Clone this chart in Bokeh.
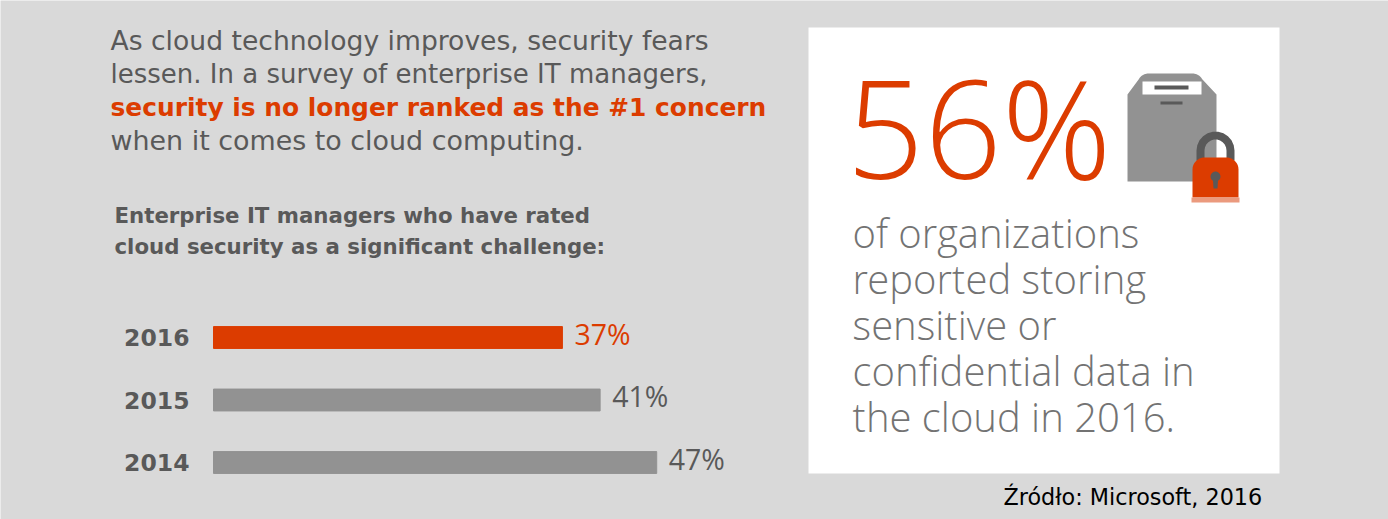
import numpy as np

from bokeh.core.properties import value
from bokeh.embed import file_html
from bokeh.models import BoxAnnotation, FixedTicker, Label, PolyAnnotation, Range1d
from bokeh.plotting import figure
from bokeh.resources import INLINE

# chart data
years = [2014, 2015, 2016]
shares = [47, 41, 37]
bar_colors = ["#929292", "#929292", "#dc3c00"]
share_labels = ["47%", "41%", "37%"]
label_colors = ["#595959", "#595959", "#dc3c00"]

intro_lines = ["As cloud technology improves, security fears",
               "lessen. In a survey of enterprise IT managers,",
               "security is no longer ranked as the #1 concern",
               "when it comes to cloud computing."]
chart_title = ["Enterprise IT managers who have rated",
               "cloud security as a significant challenge:"]
panel_lines = ["of organizations", "reported storing", "sensitive or",
               "confidential data in", "the cloud in 2016."]
big_number = "56%"
source_text = "Źródło: Microsoft, 2016"

GREY = "#595959"
ORANGE = "#dc3c00"
BG = "#d9d9d9"

W, H = 1388, 519
px_per_pct = 9.43
px_per_year = 62.5
zero_x = 213
y_2016 = 337

p = figure(width=W, height=H, output_backend="svg", toolbar_location=None,
           x_range=Range1d(-zero_x / px_per_pct, (W - zero_x) / px_per_pct),
           y_range=Range1d(2016 - (H - y_2016) / px_per_year, 2016 + y_2016 / px_per_year),
           min_border=0, background_fill_color=BG, border_fill_color=BG)
p.outline_line_color = None
p.grid.visible = False
p.xaxis.visible = False

p.yaxis.fixed_location = 0
p.yaxis.ticker = FixedTicker(ticks=years)
p.yaxis.axis_line_color = None
p.yaxis.major_tick_line_color = None
p.yaxis.minor_tick_line_color = None
p.yaxis.major_label_text_font = "DejaVu Sans"
p.yaxis.major_label_text_font_style = "bold"
p.yaxis.major_label_text_font_size = "23.5px"
p.yaxis.major_label_text_color = GREY
p.yaxis.major_label_standoff = 18


def text(s, x, y, size, color=GREY, font="DejaVu Sans", style="normal"):
    p.add_layout(Label(x=x, y=y, x_units="canvas", y_units="canvas", text=s,
                       text_font=font, text_font_size=size, text_font_style=style,
                       text_color=color, text_baseline="alphabetic"))


def shape(xs, ys, color):
    p.add_layout(PolyAnnotation(xs=list(xs), ys=list(ys), xs_units="canvas", ys_units="canvas",
                                fill_color=color, fill_alpha=1, line_color=None))


def arc(cx, cy, r, a0, a1, n=12):
    a = np.radians(np.linspace(a0, a1, n))
    return (cx + r * np.cos(a)).tolist(), (cy - r * np.sin(a)).tolist()


# white panel on the right
p.add_layout(BoxAnnotation(left=808, right=1279, top=27, bottom=473,
                           left_units="canvas", right_units="canvas",
                           top_units="canvas", bottom_units="canvas",
                           fill_color="white", fill_alpha=1, line_color=None))

# bars
p.hbar(y=years, right=shares, left=0, height=0.35, color=bar_colors)
p.text(x=shares, y=years, text=share_labels, x_offset=12, y_offset=-4, text_color=label_colors,
       text_font=value("Open Sans"), text_font_size="28.5px", text_baseline="middle")

intro_sizes = ["26.6px", "26px", "24.9px", "26.9px"]
for i, line in enumerate(intro_lines):
    bold = i == 2
    text(line, 110, 40 + i * 33.3, intro_sizes[i], ORANGE if bold else GREY, style="bold" if bold else "normal")
for i, line in enumerate(chart_title):
    text(line, 114, 214.5 + i * 31, "21.3px", style="bold")

text(big_number, 846, 126, "136px", ORANGE, font="Open Sans Light")
for i, line in enumerate(panel_lines):
    text(line, 852, 232 + i * 46, "40px", "#737373", font="Open Sans Light")
text(source_text, 1003, 496, "22.3px", "#000000")

# box icon
lx, ly = arc(1148, 84, 11, 150, 90)
rx, ry = arc(1192, 84, 11, 90, 30)
shape([1127] + lx + rx + [1216, 1216, 1127], [94] + ly + ry + [94, 181, 181], "#929292")
shape([1142, 1201, 1201, 1142], [81, 81, 94, 94], "white")
shape([1154, 1188, 1188, 1154], [85, 85, 89, 89], GREY)
shape([1160, 1182, 1182, 1160], [101, 101, 104, 104], GREY)
# padlock shackle
ox, oy = arc(1215, 150, 19, 180, 0)
ix, iy = arc(1215, 150, 11, 0, 180)
shape([1196] + ox + [1234, 1226] + ix + [1204], [160] + oy + [160, 160] + iy + [160], GREY)
# padlock body
tlx, tly = arc(1204, 169, 12, 180, 90)
trx, try_ = arc(1226, 169, 12, 90, 0)
shape([1192] + tlx + trx + [1238], [197] + tly + try_ + [197], ORANGE)
shape([1191, 1239, 1239, 1191], [197, 197, 202, 202], "#eb9a7e")
# keyhole
kx, ky = arc(1215, 176, 5, -60, 240, n=20)
shape(kx + [1213, 1217], ky + [188, 188], GREY)

open("out.html", "w").write(file_html(p, INLINE))
